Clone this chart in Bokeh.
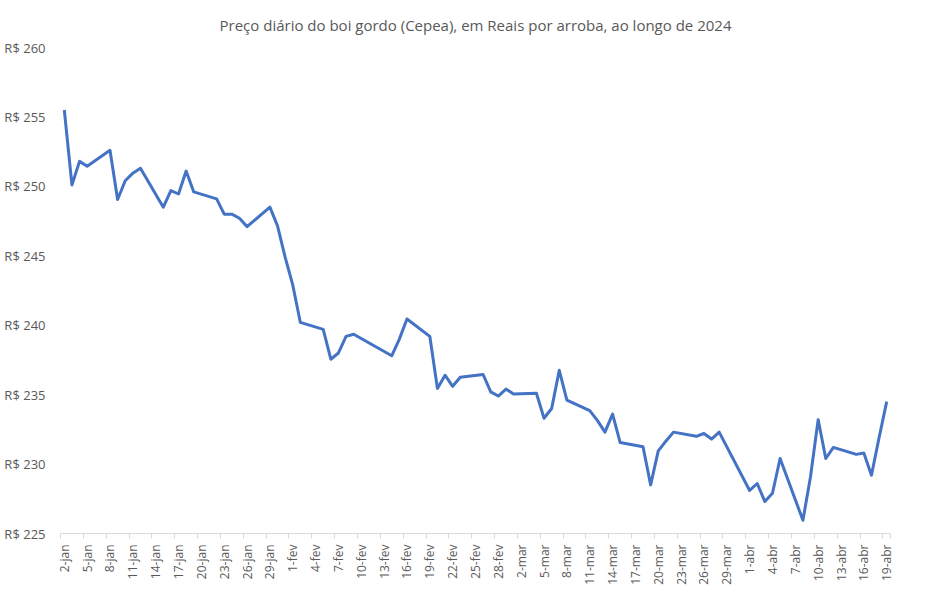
import pandas as pd
from bokeh.plotting import figure
from bokeh.models import FixedTicker, Range1d
from bokeh.embed import file_html
from bokeh.resources import INLINE

title_text = "Preço diário do boi gordo (Cepea), em Reais por arroba, ao longo de 2024"

dates = [
    "2024-01-02", "2024-01-03", "2024-01-04", "2024-01-05",
    "2024-01-08", "2024-01-09", "2024-01-10", "2024-01-11", "2024-01-12",
    "2024-01-15", "2024-01-16", "2024-01-17", "2024-01-18", "2024-01-19",
    "2024-01-22", "2024-01-23", "2024-01-24", "2024-01-25", "2024-01-26",
    "2024-01-29", "2024-01-30", "2024-01-31", "2024-02-01", "2024-02-02",
    "2024-02-05", "2024-02-06", "2024-02-07", "2024-02-08", "2024-02-09",
    "2024-02-14", "2024-02-15", "2024-02-16",
    "2024-02-19", "2024-02-20", "2024-02-21", "2024-02-22", "2024-02-23",
    "2024-02-26", "2024-02-27", "2024-02-28", "2024-02-29", "2024-03-01",
    "2024-03-04", "2024-03-05", "2024-03-06", "2024-03-07", "2024-03-08",
    "2024-03-11", "2024-03-12", "2024-03-13", "2024-03-14", "2024-03-15",
    "2024-03-18", "2024-03-19", "2024-03-20", "2024-03-21", "2024-03-22",
    "2024-03-25", "2024-03-26", "2024-03-27", "2024-03-28",
    "2024-04-01", "2024-04-02", "2024-04-03", "2024-04-04", "2024-04-05",
    "2024-04-08", "2024-04-09", "2024-04-10", "2024-04-11", "2024-04-12",
    "2024-04-15", "2024-04-16", "2024-04-17", "2024-04-18", "2024-04-19",
]

prices = [
    255.5, 250.1, 251.8, 251.45,
    252.6, 249.05, 250.4, 250.95, 251.3,
    248.5, 249.7, 249.45, 251.1, 249.6,
    249.1, 248.0, 248.0, 247.7, 247.1,
    248.5, 247.15, 244.9, 242.9, 240.2,
    239.7, 237.55, 238.0, 239.2, 239.35,
    237.8, 239.0, 240.45,
    239.2, 235.45, 236.4, 235.6, 236.25,
    236.45, 235.2, 234.9, 235.4, 235.05,
    235.1, 233.3, 234.0, 236.75, 234.6,
    233.85, 233.15, 232.3, 233.6, 231.55,
    231.25, 228.5, 230.95, 231.65, 232.3,
    232.0, 232.2, 231.8, 232.3,
    228.1, 228.6, 227.3, 227.9, 230.4,
    225.95, 229.1, 233.2, 230.4, 231.2,
    230.7, 230.8, 229.2, 231.9, 234.5,
]

tick_labels = [
    "2-jan", "5-jan", "8-jan", "11-jan", "14-jan", "17-jan", "20-jan",
    "23-jan", "26-jan", "29-jan", "1-fev", "4-fev", "7-fev", "10-fev",
    "13-fev", "16-fev", "19-fev", "22-fev", "25-fev", "28-fev", "2-mar",
    "5-mar", "8-mar", "11-mar", "14-mar", "17-mar", "20-mar", "23-mar",
    "26-mar", "29-mar", "1-abr", "4-abr", "7-abr", "10-abr", "13-abr",
    "16-abr", "19-abr",
]

y_ticks = [225, 230, 235, 240, 245, 250, 255, 260]

start = pd.Timestamp(dates[0])
x = [(pd.Timestamp(d) - start).days for d in dates]
tick_pos = [3 * i for i in range(len(tick_labels))]
minor_pos = [t - 0.5 for t in tick_pos] + [tick_pos[-1] + 0.5]

p = figure(
    width=949, height=591, output_backend="svg", toolbar_location=None,
    x_range=Range1d(-0.5, tick_pos[-1] + 0.5),
    y_range=Range1d(y_ticks[0], y_ticks[-1]),
    min_border_left=60, min_border_right=59, min_border_top=47, min_border_bottom=58,
    title=title_text,
)
p.outline_line_color = None
p.background_fill_color = "white"
p.border_fill_color = "white"
p.title.align = "center"
p.title.vertical_align = "top"
p.title.text_font = "Open Sans"
p.title.text_font_size = "15px"
p.title.text_font_style = "normal"
p.title.text_color = "#595959"
p.title.standoff = 22

p.xgrid.visible = False
p.ygrid.visible = False

p.line(x, prices, line_color="#4472C4", line_width=3, line_join="round")

xa = p.xaxis[0]
xa.ticker = FixedTicker(ticks=tick_pos, minor_ticks=minor_pos)
xa.major_label_overrides = {t: lab for t, lab in zip(tick_pos, tick_labels)}
xa.major_label_orientation = 1.5708
xa.axis_line_color = "#D9D9D9"
xa.axis_line_width = 1
xa.major_tick_line_color = None
xa.minor_tick_line_color = "#D9D9D9"
xa.minor_tick_out = 5
xa.minor_tick_in = 0
xa.major_label_text_font = "Open Sans"
xa.major_label_text_font_size = "12px"
xa.major_label_text_color = "#595959"
xa.major_label_standoff = 5

ya = p.yaxis[0]
ya.ticker = FixedTicker(ticks=y_ticks)
ya.major_label_overrides = {v: f"R$ {v}" for v in y_ticks}
ya.axis_line_color = None
ya.major_tick_line_color = None
ya.minor_tick_line_color = None
ya.major_label_text_font = "Open Sans"
ya.major_label_text_font_size = "13px"
ya.major_label_text_color = "#595959"
ya.major_label_standoff = 9

open("out.html", "w").write(file_html(p, INLINE))
